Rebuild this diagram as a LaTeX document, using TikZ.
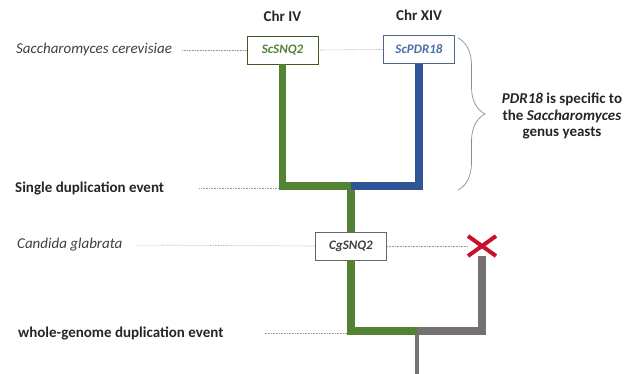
\documentclass[tikz,border=0pt]{standalone}
\usepackage{fontspec}
\setmainfont{Carlito}
\usepackage{tikz}
\usetikzlibrary{positioning,calc,shapes.misc,decorations.pathreplacing}
\definecolor{treegreen}{HTML}{548235}
\definecolor{treeblue}{HTML}{2F5597}
\definecolor{treegray}{HTML}{767171}
\definecolor{lossred}{HTML}{C8102E}
\definecolor{labelink}{HTML}{262626}
\tikzset{
  gene/.style={draw, fill=white, line width=0.8pt, align=center,
               font=\fontsize{13}{15}\selectfont\bfseries\itshape,
               minimum width=71pt, minimum height=28pt, inner sep=2pt},
  species/.style={anchor=west, inner sep=0pt, text=black!75,
                  font=\fontsize{15}{18}\selectfont\itshape},
  event/.style={anchor=west, inner sep=0pt, text=labelink,
                font=\fontsize{15}{18}\selectfont\bfseries},
  chrom/.style={inner sep=0pt, text=labelink, font=\fontsize{15}{18}\selectfont\bfseries},
  guide/.style={densely dotted, black!40, line width=0.6pt},
  branch/.style={line width=7.5pt},
}

\begin{document}
\begin{tikzpicture}[x=1pt,y=-1pt]
  \useasboundingbox (0,0) rectangle (638,374);
  % gene boxes and chromosome labels
  \node[gene, draw=treegreen!70!black, text=treegreen] (scsnq) at (282.5,50) {ScSNQ2};
  \node[gene, draw=treeblue!60!gray, text=treeblue!85] (scpdr) at (419,49.5) {ScPDR18};
  \node[gene, draw=black!60, text=black!75] (cgsnq) at (351,246) {CgSNQ2};
  \node[chrom, above=14pt of scsnq] (chriv) {Chr IV};
  \node[chrom, above=14pt of scpdr] (chrxiv) {Chr XIV};
  % row labels on the left
  \node[species] (sacc) at (16,50) {Saccharomyces cerevisiae};
  \node[event] (single) at (15,188) {Single duplication event};
  \node[species] (cand) at (17,245) {Candida glabrata};
  \node[event] (wgd) at (18,333) {whole-genome duplication event};
  % junctions
  \coordinate (dup) at (351,186);
  \coordinate (wgdj) at (417,331);
  \coordinate (root) at (417,374);
  \node[cross out, draw=lossred, line width=4pt, minimum width=24pt, minimum height=16pt,
        inner sep=0pt] (lost) at (482,246) {};
  % dotted guides
  \draw[guide, shorten <=10pt] (sacc.east) -- (scsnq.west);
  \draw[guide] (scsnq.east) -- (scpdr.west);
  \draw[guide, shorten <=35pt, shorten >=4pt] (single.east) -- (single.east -| scsnq.south);
  \draw[guide, shorten <=14pt] (cand.east) -- (cgsnq.west);
  \draw[guide] (cgsnq.east) -- (lost.west);
  \draw[guide, shorten <=41pt, shorten >=4pt] (wgd.east) -- (wgd.east -| cgsnq.south);
  % tree branches
  \draw[branch, treegreen] (dup) -- (cgsnq.north);
  \draw[branch, treegreen] (scsnq.south) |- (dup);
  \draw[branch, treeblue] (scpdr.south) |- (dup);
  \draw[treegray, line width=3.5pt] (wgdj) -- (root);
  \draw[branch, treegreen] (cgsnq.south) |- (wgdj);
  \draw[branch, treegray] (wgdj) -| (lost);
  % brace and note
  \draw[black!45, line width=0.7pt, decorate, decoration={brace, amplitude=27pt}]
    (458,38) -- (458,190);
  \node[align=center, text=labelink, font=\fontsize{15}{16.5}\selectfont\bfseries]
    (note) at (562,116) {\textit{PDR18} is specific to\\the \textit{Saccharomyces}\\genus yeasts};
\end{tikzpicture}
\end{document}
